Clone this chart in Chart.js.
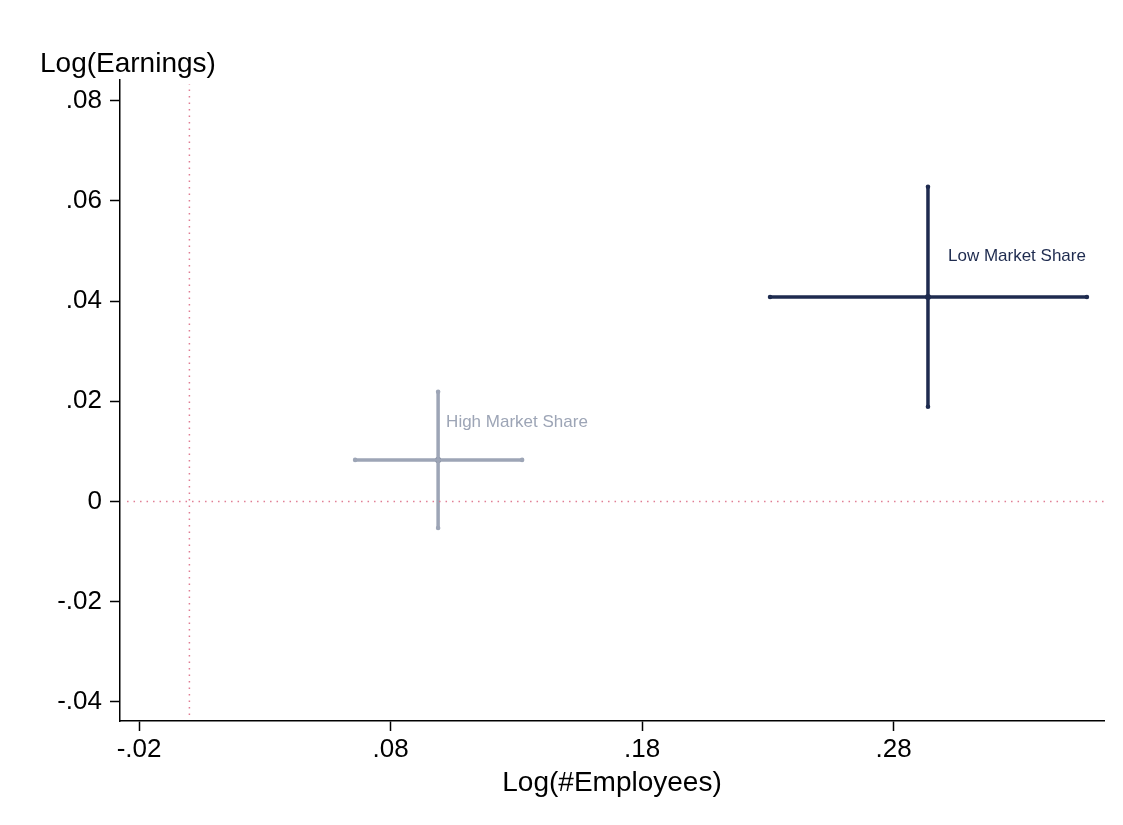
<!DOCTYPE html>
<html><head><meta charset="utf-8">
<script src="https://cdn.jsdelivr.net/npm/chart.js@4/dist/chart.umd.min.js"></script>
<style>html,body{margin:0;padding:0;background:#fff}#wrap{width:1123px;height:825px;position:relative}</style>
</head><body><div id="wrap"><canvas id="c" width="1123" height="825"></canvas></div>
<script>
// ---- data ----
const categories = ['High Market Share', 'Low Market Share'];
const xCenter = [0.0989, 0.2937];
const xLower  = [0.0659, 0.2309];
const xUpper  = [0.1323, 0.3569];
const yCenter = [0.0083, 0.0408];
const yLower  = [-0.0053, 0.0189];
const yUpper  = [0.0219, 0.0628];
const xTickValues = [-0.02, 0.08, 0.18, 0.28];
const xTickLabels = ['-.02', '.08', '.18', '.28'];
const yTickValues = [-0.04, -0.02, 0, 0.02, 0.04, 0.06, 0.08];
const yTickLabels = ['-.04', '-.02', '0', '.02', '.04', '.06', '.08'];
const xTitle = 'Log(#Employees)';
const yTitle = 'Log(Earnings)';

// ---- styles ----
const X_MIN = -0.0276, X_MAX = 0.3637, Y_MIN = -0.0438, Y_MAX = 0.0841;
const seriesColor = ['#9da5b6', '#1e2b4f'];
const centerColor = ['#3b4662', '#1e2b4f'];
const labelOffset = [[8, 31], [20, 70]]; // px relative to (xCenter, yUpper)
const refColor = '#e07d93';
const FONT = "'Liberation Sans', Arial, Helvetica, sans-serif";

const datasets = [];
// reference lines at zero
datasets.push({ data: [{x: 0, y: Y_MIN + 0.0012}, {x: 0, y: Y_MAX - 0.0008}], borderColor: refColor, borderWidth: 1.5, borderDash: [1.5, 5], pointRadius: 0, showLine: true });
datasets.push({ data: [{x: X_MIN + 0.0028, y: 0}, {x: X_MAX, y: 0}], borderColor: refColor, borderWidth: 1.5, borderDash: [1.5, 5], pointRadius: 0, showLine: true });
categories.forEach((c, i) => {
  datasets.push({ label: c + ' x', data: [{x: xLower[i], y: yCenter[i]}, {x: xUpper[i], y: yCenter[i]}], borderColor: seriesColor[i], backgroundColor: seriesColor[i], borderWidth: 3.5, pointRadius: 2.3, pointBorderWidth: 0, showLine: true });
  datasets.push({ label: c + ' y', data: [{x: xCenter[i], y: yLower[i]}, {x: xCenter[i], y: yUpper[i]}], borderColor: seriesColor[i], backgroundColor: seriesColor[i], borderWidth: 3.5, pointRadius: 2.3, pointBorderWidth: 0, showLine: true });
  datasets.push({ label: c, data: [{x: xCenter[i], y: yCenter[i]}], backgroundColor: centerColor[i], borderColor: centerColor[i], pointRadius: 3, pointBorderWidth: 0, showLine: false });
});

const textPlugin = {
  id: 'texts',
  afterDraw(chart) {
    const ctx = chart.ctx, xs = chart.scales.x, ys = chart.scales.y, ca = chart.chartArea;
    ctx.save();
    ctx.fillStyle = '#000';
    ctx.font = '28px ' + FONT;
    ctx.textBaseline = 'alphabetic';
    ctx.textAlign = 'left';
    ctx.fillText(yTitle, 40, 72);
    ctx.textAlign = 'center';
    ctx.fillText(xTitle, (ca.left + ca.right) / 2, 791);
    ctx.font = '17px ' + FONT;
    ctx.textAlign = 'left';
    ctx.textBaseline = 'middle';
    categories.forEach((c, i) => {
      ctx.fillStyle = seriesColor[i];
      ctx.fillText(c, xs.getPixelForValue(xCenter[i]) + labelOffset[i][0], ys.getPixelForValue(yUpper[i]) + labelOffset[i][1]);
    });
    ctx.restore();
  }
};

new Chart(document.getElementById('c'), {
  type: 'scatter',
  data: { datasets },
  options: {
    responsive: false, animation: false, devicePixelRatio: 1,
    layout: { padding: { top: 80, right: 19, left: 0, bottom: 0 } },
    plugins: { legend: { display: false }, tooltip: { enabled: false } },
    scales: {
      x: {
        type: 'linear', min: X_MIN, max: X_MAX,
        afterFit(s) { s.height = 104; },
        afterBuildTicks(s) { s.ticks = xTickValues.map(v => ({ value: v })); },
        border: { color: '#000', width: 1.5 },
        grid: { drawOnChartArea: false, drawTicks: true, tickLength: 10, tickColor: '#000', tickWidth: 1.5 },
        ticks: { color: '#000', font: { family: FONT, size: 26 }, padding: 3, maxRotation: 0, autoSkip: false,
          callback(v) { const k = xTickValues.indexOf(v); return k >= 0 ? xTickLabels[k] : ''; } }
      },
      y: {
        type: 'linear', min: Y_MIN, max: Y_MAX,
        afterFit(s) { s.width = 120; },
        afterBuildTicks(s) { s.ticks = yTickValues.map(v => ({ value: v })); },
        border: { color: '#000', width: 1.5 },
        grid: { drawOnChartArea: false, drawTicks: true, tickLength: 10, tickColor: '#000', tickWidth: 1.5 },
        ticks: { color: '#000', font: { family: FONT, size: 26 }, padding: 8, autoSkip: false,
          callback(v) { const k = yTickValues.indexOf(v); return k >= 0 ? yTickLabels[k] : ''; } }
      }
    }
  },
  plugins: [textPlugin]
});
</script></body></html>
